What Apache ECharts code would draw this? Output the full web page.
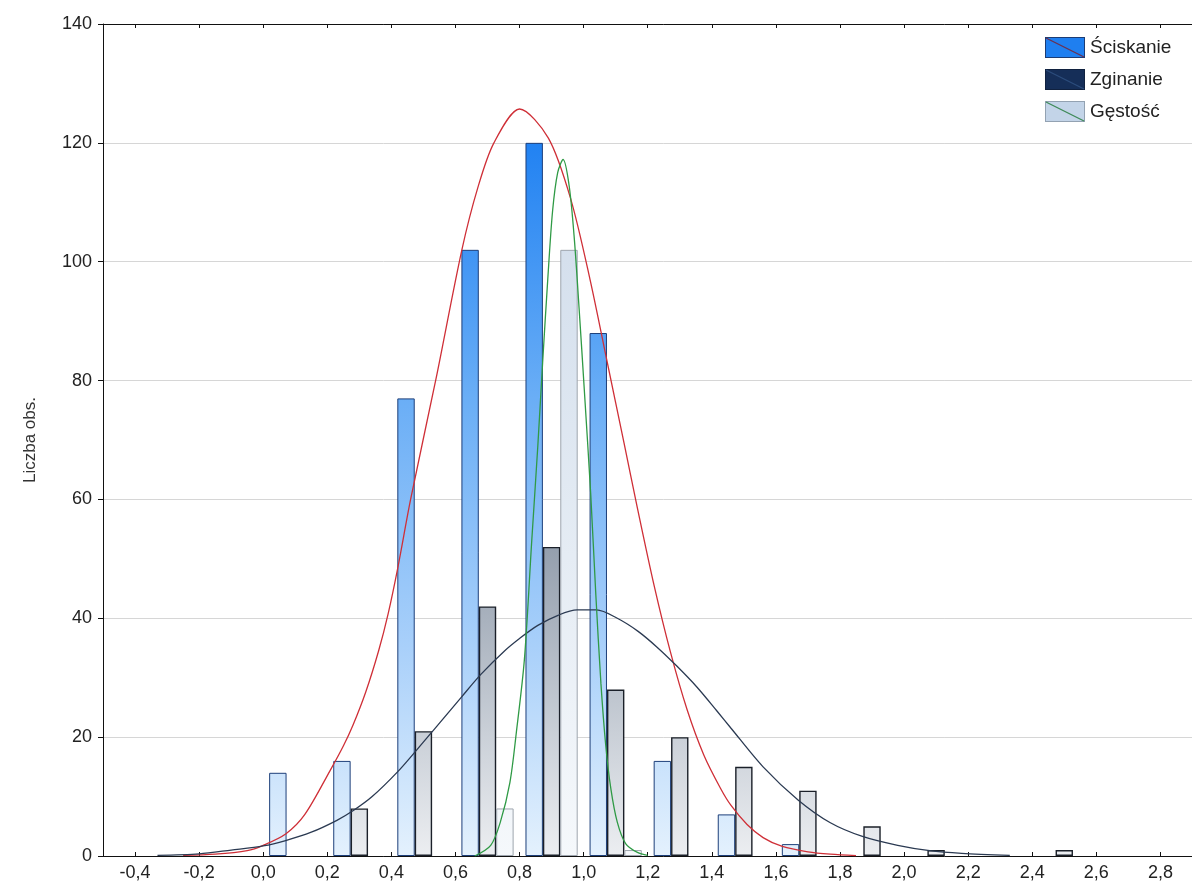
<!DOCTYPE html>
<html>
<head>
<meta charset="utf-8">
<script src="https://cdn.jsdelivr.net/npm/echarts@6/dist/echarts.min.js"></script>
<style>
  html, body { margin: 0; padding: 0; background: #ffffff; overflow: hidden; }
  #chart { width: 1240px; height: 892px; }
</style>
</head>
<body>
<div id="chart"></div>
<script>
// Histogram bins (class width 0.2) – centre of each class
const binCenters = [0.1, 0.3, 0.5, 0.7, 0.9, 1.1, 1.3, 1.5, 1.7, 1.9, 2.1, 2.3, 2.5];

// Observed counts per class
const sciskanie = [14, 16, 77, 102, 120, 88, 16, 7, 2, 0, 0, 0, 0];
const zginanie  = [0, 8, 21, 42, 52, 28, 20, 15, 11, 5, 1, 0, 1];
const gestosc   = [0, 0, 0, 8, 102, 1, 0, 0, 0, 0, 0, 0, 0];

// Fitted normal curves, sampled as [x, expected count]
const fitSciskanie = [
  [-0.25, 0.1], [-0.15, 0.3], [-0.05, 0.9], [0.0, 1.8], [0.07, 3.7], [0.13, 7.0],
  [0.21, 14.5], [0.25, 18.5], [0.28, 22.0], [0.32, 27.6], [0.36, 34.5], [0.39, 40.8],
  [0.42, 48.5], [0.46, 60.0], [0.54, 80.5], [0.62, 102.0], [0.67, 112.5], [0.72, 120.0],
  [0.80, 125.7], [0.89, 120.8], [0.96, 110.5], [1.02, 97.0], [1.074, 83.0], [1.126, 69.5],
  [1.168, 58.5], [1.22, 45.5], [1.271, 34.3], [1.323, 24.6], [1.375, 17.0], [1.427, 11.4],
  [1.46, 8.5], [1.51, 5.3], [1.56, 3.1], [1.62, 1.6], [1.70, 0.7], [1.77, 0.3], [1.85, 0.05]
];
const fitZginanie = [
  [-0.33, 0.1], [-0.2, 0.35], [-0.1, 1.0], [0.0, 1.7], [0.07, 2.6], [0.15, 4.0],
  [0.23, 6.0], [0.28, 7.6], [0.34, 10.0], [0.42, 14.2], [0.48, 17.9], [0.535, 21.4],
  [0.618, 26.7], [0.68, 30.6], [0.753, 34.5], [0.80, 36.6], [0.857, 38.8], [0.92, 40.5],
  [0.98, 41.4], [1.04, 41.4], [1.105, 40.0], [1.17, 37.8], [1.23, 35.1], [1.29, 32.0],
  [1.354, 28.4], [1.416, 24.4], [1.46, 21.5], [1.56, 15.0], [1.67, 9.4], [1.77, 5.6],
  [1.87, 3.3], [1.98, 1.8], [2.08, 0.9], [2.18, 0.45], [2.33, 0.1]
];
const fitGestosc = [
  [0.66, 0.0], [0.71, 1.8], [0.74, 5.7], [0.77, 12.4], [0.79, 20.8], [0.815, 33.0],
  [0.838, 53.0], [0.857, 69.0], [0.872, 83.0], [0.888, 97.0], [0.903, 108.5], [0.919, 115.0],
  [0.936, 117.2], [0.955, 112.7], [0.971, 103.8], [0.986, 92.0], [1.002, 78.5], [1.022, 61.0],
  [1.038, 44.0], [1.054, 29.0], [1.069, 18.6], [1.085, 11.3], [1.105, 5.7], [1.131, 2.1],
  [1.168, 0.6], [1.2, 0.1]
];

// Axis ticks
const xTickValues = [-0.4, -0.2, 0.0, 0.2, 0.4, 0.6, 0.8, 1.0, 1.2, 1.4, 1.6, 1.8, 2.0, 2.2, 2.4, 2.6, 2.8, 3.0];
const seriesNames = ['Ściskanie', 'Zginanie', 'Gęstość'];
const yAxisTitle = 'Liczba obs.';

const FONT = 'Liberation Sans, Arial, sans-serif';
const PLOT_TOP = 24, PLOT_BOTTOM = 856;

function pairs(values) {
  return binCenters.map((c, i) => [c, values[i] > 0 ? values[i] : null]);
}
function vgrad(stops) {
  return new echarts.graphic.LinearGradient(0, PLOT_TOP, 0, PLOT_BOTTOM,
    stops.map(s => ({ offset: s[0], color: s[1] })), true);
}
function swatch(fill, stroke, diag) {
  const svg = "<svg xmlns='http://www.w3.org/2000/svg' width='40' height='21'>" +
    "<rect x='0.5' y='0.5' width='39' height='20' fill='" + fill + "' stroke='" + stroke + "'/>" +
    "<line x1='1' y1='1' x2='39' y2='20' stroke='" + diag + "' stroke-width='1.3'/></svg>";
  return 'image://data:image/svg+xml;charset=utf-8,' + encodeURIComponent(svg);
}
const fmt = v => (Math.abs(v) < 1e-9 ? 0 : v).toFixed(1).replace('.', ',');

const chart = echarts.init(document.getElementById('chart'), null, { renderer: 'canvas' });

const barCommon = { type: 'bar', barWidth: 17.4, barGap: '0%', xAxisIndex: 0, z: 2 };
const lineCommon = { type: 'line', showSymbol: false, symbol: 'none', smooth: 0.3,
  xAxisIndex: 0, z: 4, silent: true };

chart.setOption({
  animation: false,
  backgroundColor: '#ffffff',
  textStyle: { fontFamily: FONT },
  grid: { left: 103, right: 11, top: PLOT_TOP, bottom: 892 - PLOT_BOTTOM, containLabel: false },
  legend: {
    orient: 'vertical', left: 1040, top: 32, itemWidth: 40, itemHeight: 21, itemGap: 11,
    textStyle: { fontSize: 19, color: '#222', fontFamily: FONT },
    data: [
      { name: seriesNames[0], icon: swatch('#1f7ff0', '#1c3c74', '#6a3050') },
      { name: seriesNames[1], icon: swatch('#152e58', '#10213f', '#2c4c7c') },
      { name: seriesNames[2], icon: swatch('#c3d4e8', '#93a2b2', '#3e8a58') }
    ]
  },
  xAxis: [
    {
      type: 'value', min: -0.5, max: 3.0, position: 'bottom',
      axisLine: { show: true, onZero: false, lineStyle: { color: '#111', width: 1 } },
      axisTick: { show: true, inside: true, length: 4, customValues: xTickValues, lineStyle: { color: '#111' } },
      axisLabel: { show: true, customValues: xTickValues, formatter: fmt, fontSize: 18, color: '#222', margin: 8, fontFamily: FONT },
      splitLine: { show: false }
    },
    {
      type: 'value', min: -0.5, max: 3.0, position: 'top',
      axisLine: { show: true, onZero: false, lineStyle: { color: '#111', width: 1 } },
      axisTick: { show: true, inside: true, length: 4, customValues: xTickValues, lineStyle: { color: '#111' } },
      axisLabel: { show: false },
      splitLine: { show: false }
    }
  ],
  yAxis: {
    type: 'value', min: 0, max: 140, interval: 20,
    name: yAxisTitle, nameLocation: 'middle', nameGap: 64, nameRotate: 90,
    nameTextStyle: { fontSize: 17, color: '#333', fontFamily: FONT },
    axisLine: { show: true, onZero: false, lineStyle: { color: '#111', width: 1 } },
    axisTick: { show: true, inside: false, length: 5, lineStyle: { color: '#111' } },
    axisLabel: { fontSize: 18, color: '#222', margin: 11, fontFamily: FONT },
    splitLine: { show: true, lineStyle: { color: '#d6d6d6', width: 1 } }
  },
  series: [
    Object.assign({}, barCommon, {
      name: seriesNames[0], data: pairs(sciskanie),
      itemStyle: {
        color: vgrad([[0, '#0b6cee'], [0.15, '#2383f2'], [0.45, '#6aaef6'], [0.75, '#a9d0fa'], [1, '#e4f1fd']]),
        borderColor: '#1d3f7a', borderWidth: 1
      }
    }),
    Object.assign({}, barCommon, {
      name: seriesNames[1], data: pairs(zginanie),
      itemStyle: {
        color: vgrad([[0, '#1a2c4c'], [0.4, '#5f6d82'], [0.62, '#929dac'], [0.85, '#c9cfd7'], [1, '#eceef1']]),
        borderColor: '#1b2029', borderWidth: 1.4
      }
    }),
    Object.assign({}, barCommon, {
      name: seriesNames[2], data: pairs(gestosc),
      itemStyle: {
        color: vgrad([[0, '#b5cbe2'], [0.28, '#d5e0ed'], [1, '#f5f8fb']]),
        borderColor: '#9ea5ae', borderWidth: 1
      }
    }),
    Object.assign({}, lineCommon, {
      name: 'fit-' + seriesNames[0], data: fitSciskanie,
      lineStyle: { color: '#cf2f37', width: 1.3 }
    }),
    Object.assign({}, lineCommon, {
      name: 'fit-' + seriesNames[1], data: fitZginanie,
      lineStyle: { color: '#2b3a52', width: 1.3 }
    }),
    Object.assign({}, lineCommon, {
      name: 'fit-' + seriesNames[2], data: fitGestosc,
      lineStyle: { color: '#2f9a45', width: 1.3 }
    })
  ]
});
</script>
</body>
</html>
